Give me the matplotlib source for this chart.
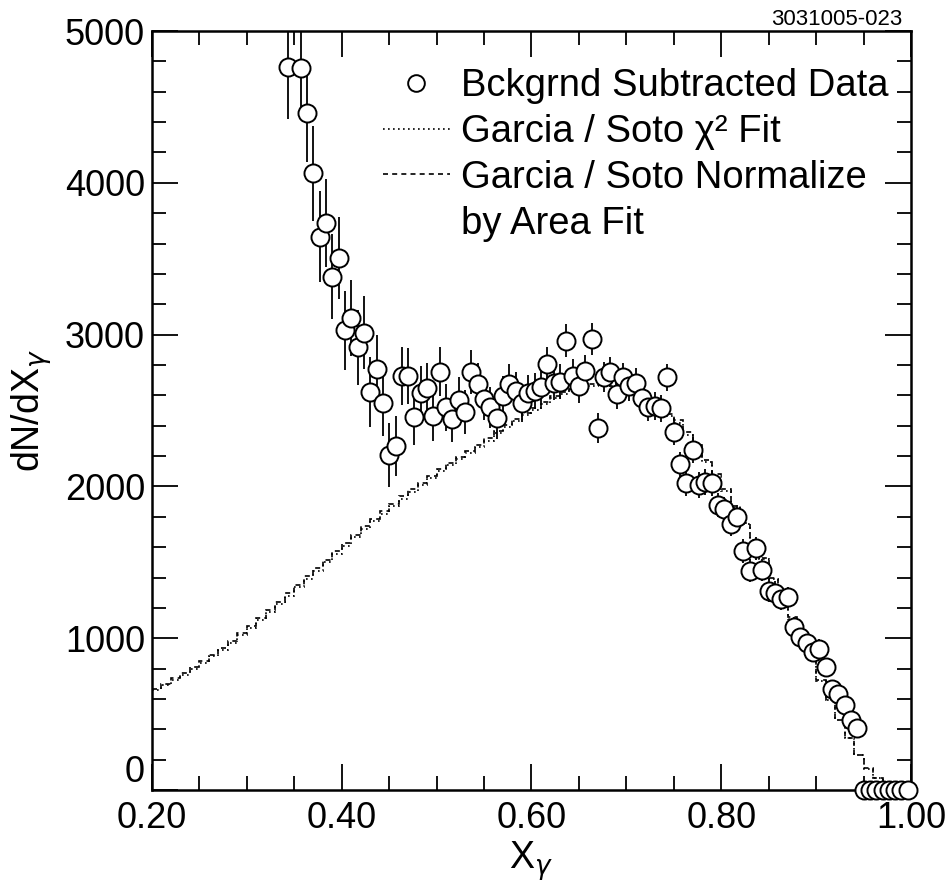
import numpy as np
import matplotlib
matplotlib.use("Agg")
import matplotlib.pyplot as plt
from matplotlib.lines import Line2D

plt.rcParams['font.family'] = ['Liberation Sans', 'DejaVu Sans']
plt.rcParams['mathtext.fontset'] = 'dejavusans'

# background subtracted data (bin centres, counts, errors)
data_x = [0.3433, 0.3567, 0.3633, 0.3700, 0.3767, 0.3833, 0.3900, 0.3967, 0.4033,
          0.4100, 0.4167, 0.4233, 0.4300, 0.4367, 0.4433, 0.4500, 0.4567, 0.4633, 0.4700,
          0.4767, 0.4833, 0.4900, 0.4967, 0.5033, 0.5100, 0.5167, 0.5233, 0.5300, 0.5367,
          0.5433, 0.5500, 0.5567, 0.5633, 0.5700, 0.5767, 0.5833, 0.5900, 0.5967, 0.6033,
          0.6100, 0.6167, 0.6233, 0.6300, 0.6367, 0.6433, 0.6500, 0.6567, 0.6633, 0.6700,
          0.6767, 0.6833, 0.6900, 0.6967, 0.7033, 0.7100, 0.7167, 0.7233, 0.7300, 0.7367,
          0.7433, 0.7500, 0.7567, 0.7633, 0.7700, 0.7767, 0.7833, 0.7900, 0.7967, 0.8033,
          0.8100, 0.8167, 0.8233, 0.8300, 0.8367, 0.8433, 0.8500, 0.8567, 0.8633, 0.8700,
          0.8767, 0.8833, 0.8900, 0.8967, 0.9033, 0.9100, 0.9167, 0.9233, 0.9300, 0.9367,
          0.9433, 0.9500, 0.9567, 0.9633, 0.9700, 0.9767, 0.9833, 0.9900, 0.9967]
data_y = [4763, 4754, 4458, 4062, 3645, 3733, 3381, 3503, 3030,
          3107, 2916, 3013, 2624, 2771, 2547, 2207, 2266, 2727, 2727,
          2455, 2617, 2646, 2464, 2756, 2521, 2444, 2569, 2492, 2756,
          2675, 2576, 2521, 2449, 2596, 2675, 2630, 2552, 2617, 2630,
          2657, 2806, 2683, 2690, 2960, 2727, 2661, 2762, 2971, 2383,
          2719, 2756, 2609, 2719, 2661, 2683, 2584, 2521, 2530, 2514,
          2719, 2361, 2145, 2024, 2242, 2009, 2031, 2020, 1877, 1849,
          1752, 1796, 1577, 1445, 1592, 1449, 1313, 1300, 1256, 1269,
          1072, 1010, 970, 911, 927, 808, 663, 632, 560, 461,
          406, 0, 0, 0, 0, 0, 0, 0, 0]
data_err = [340, 330, 320, 310, 300, 290, 280, 270, 260,
            250, 245, 240, 230, 225, 215, 210, 200, 190, 185,
            180, 175, 170, 165, 160, 155, 150, 150, 145, 145,
            140, 140, 135, 135, 130, 130, 125, 125, 120, 120,
            120, 115, 115, 115, 110, 110, 110, 105, 105, 100,
            100, 100, 100, 95, 95, 95, 95, 90, 90, 90,
            90, 90, 85, 85, 85, 85, 85, 80, 80, 80,
            80, 80, 80, 75, 75, 75, 75, 75, 70, 70,
            70, 70, 65, 65, 65, 65, 60, 60, 60, 55,
            55, 0, 0, 0, 0, 0, 0, 0, 0]

# Garcia / Soto fits as histograms
fit_edges = [0.20, 0.21, 0.22, 0.23, 0.24, 0.25, 0.26, 0.27, 0.28, 0.29,
             0.30, 0.31, 0.32, 0.33, 0.34, 0.35, 0.36, 0.37, 0.38, 0.39,
             0.40, 0.41, 0.42, 0.43, 0.44, 0.45, 0.46, 0.47, 0.48, 0.49,
             0.50, 0.51, 0.52, 0.53, 0.54, 0.55, 0.56, 0.57, 0.58, 0.59,
             0.60, 0.61, 0.62, 0.63, 0.64, 0.65, 0.66, 0.67, 0.68, 0.69,
             0.70, 0.71, 0.72, 0.73, 0.74, 0.75, 0.76, 0.77, 0.78, 0.79,
             0.80, 0.81, 0.82, 0.83, 0.84, 0.85, 0.86, 0.87, 0.88, 0.89,
             0.90, 0.91, 0.92, 0.93, 0.94, 0.95, 0.96, 0.97, 0.98]
fit_chi2 = [660, 690, 725, 760, 800, 840, 880, 925, 970, 1020,
            1070, 1120, 1170, 1225, 1280, 1335, 1390, 1445, 1500, 1555,
            1610, 1665, 1720, 1770, 1820, 1870, 1920, 1965, 2010, 2055,
            2100, 2140, 2180, 2220, 2260, 2300, 2350, 2390, 2430, 2470,
            2505, 2545, 2585, 2610, 2635, 2650, 2665, 2670, 2660, 2645,
            2620, 2590, 2555, 2510, 2465, 2420, 2340, 2260, 2160, 2070,
            1970, 1860, 1750, 1640, 1520, 1390, 1260, 1130, 1000, 870,
            720, 590, 460, 340, 230, 140, 80, 30]
fit_area = [665, 700, 735, 770, 810, 850, 892, 937, 983, 1033,
            1083, 1135, 1185, 1240, 1296, 1352, 1407, 1462, 1518, 1572,
            1627, 1682, 1737, 1787, 1837, 1887, 1936, 1981, 2026, 2070,
            2115, 2155, 2195, 2236, 2275, 2316, 2364, 2404, 2444, 2483,
            2518, 2556, 2595, 2620, 2645, 2662, 2675, 2680, 2672, 2658,
            2633, 2603, 2568, 2524, 2480, 2435, 2356, 2275, 2176, 2084,
            1984, 1872, 1762, 1650, 1530, 1400, 1268, 1137, 1006, 875,
            725, 594, 464, 343, 233, 143, 82, 32]

fig = plt.figure(figsize=(9.51, 8.85), dpi=100)
ax = fig.add_axes([0.1598, 0.1073, 0.7981, 0.8576])

dot_style = (0, (1, 2))
dash_style = (0, (3, 2.5))

ax.stairs(fit_chi2, fit_edges, baseline=None, color='black', lw=1.2, ls=dot_style, zorder=2)
ax.stairs(fit_area, fit_edges, baseline=None, color='black', lw=1.2, ls=dash_style, zorder=2)

x = np.array(data_x)
y = np.array(data_y)
e = np.array(data_err)
ax.errorbar(x, y, yerr=e, fmt='none', ecolor='black', elinewidth=1.3, capsize=0, zorder=3)
ax.plot(x, y, 'o', ms=13, mfc='white', mec='black', mew=1.4, zorder=4, clip_on=False)

ax.set_xlim(0.2, 1.0)
ax.set_ylim(0, 5000)
ax.set_xticks([0.2, 0.4, 0.6, 0.8, 1.0])
ax.set_xticklabels(['0.20', '0.40', '0.60', '0.80', '1.00'])
ax.set_xticks(np.arange(0.2, 1.0001, 0.05), minor=True)
ax.set_yticks([0, 1000, 2000, 3000, 4000, 5000])
ax.set_yticks(np.arange(0, 5001, 200), minor=True)
ax.tick_params(which='both', direction='in', top=True, right=True, labelsize=26, width=1.3)
ax.tick_params(which='major', length=19)
ax.tick_params(which='minor', length=10)
ax.tick_params(axis='x', pad=8)
ax.tick_params(axis='y', pad=5)
ax.yaxis.get_major_ticks()[0].label1.set_verticalalignment('bottom')
for sp in ax.spines.values():
    sp.set_linewidth(1.8)

ax.set_xlabel(r'X$_\gamma$', fontsize=27, labelpad=2)
ax.set_ylabel(r'dN/dX$_\gamma$', fontsize=27, labelpad=8)

handles = [
    Line2D([], [], marker='o', ls='none', ms=12, mfc='white', mec='black', mew=1.4),
    Line2D([], [], color='black', lw=1.2, ls=dot_style),
    Line2D([], [], color='black', lw=1.2, ls=dash_style),
    Line2D([], [], color='none'),
]
labels = ['Bckgrnd Subtracted Data', 'Garcia / Soto χ² Fit',
          'Garcia / Soto Normalize', 'by Area Fit']
ax.legend(handles, labels, loc='upper left', bbox_to_anchor=(383 / 951, 1 - 68 / 885),
          bbox_transform=fig.transFigure, frameon=False, fontsize=27.5,
          handlelength=1.75, handletextpad=0.3, borderpad=0, borderaxespad=0,
          labelspacing=0.26)

fig.text(902 / 951, 1 - 25 / 885, '3031005-023', fontsize=16, ha='right', va='baseline')

fig.savefig('out.png', dpi=100)
